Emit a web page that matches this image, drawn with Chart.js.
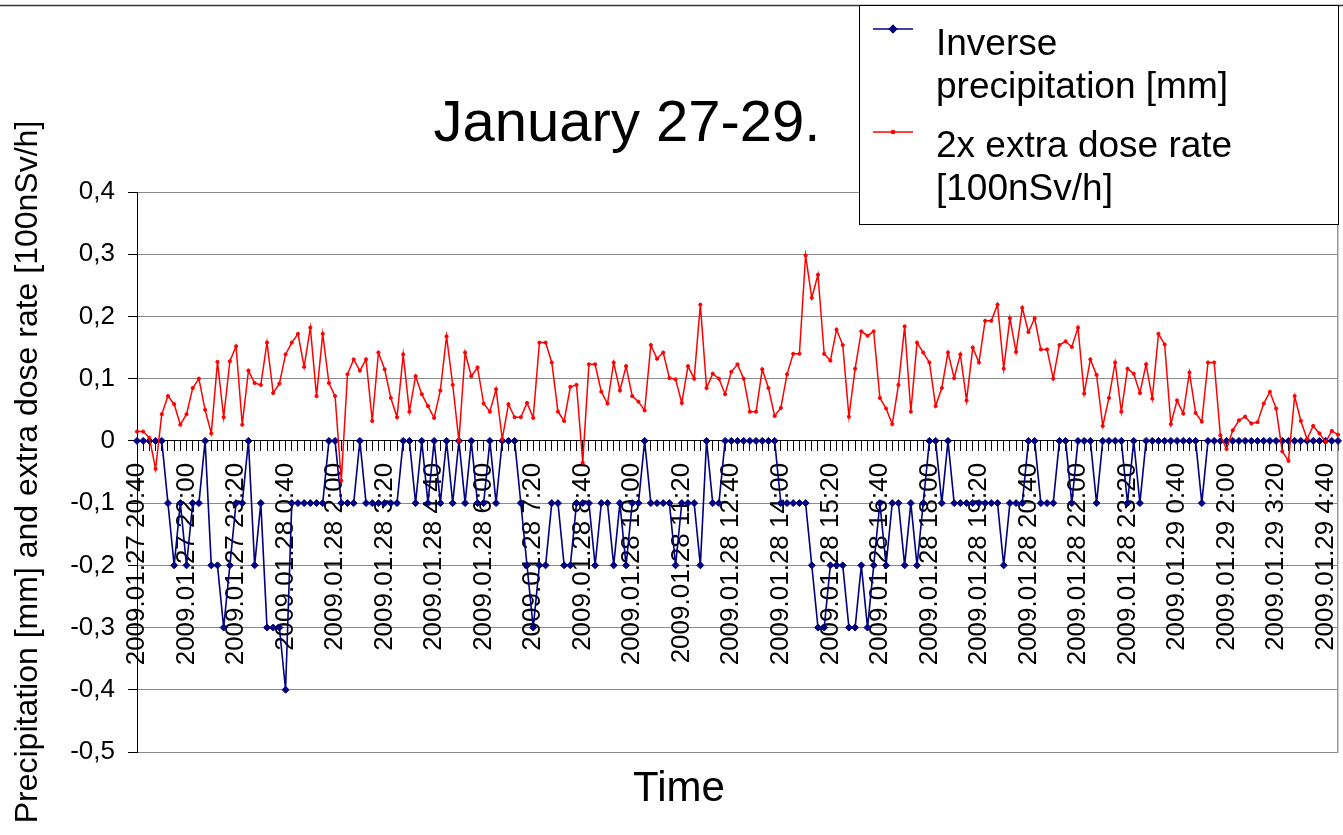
<!DOCTYPE html>
<html>
<head>
<meta charset="utf-8">
<script src="https://cdn.jsdelivr.net/npm/chart.js@4.4.1/dist/chart.umd.min.js"></script>
<style>
html,body{margin:0;padding:0;background:#fff;}
canvas{display:block;}
</style>
</head>
<body>
<canvas id="c" width="1343" height="835"></canvas>
<script>
const chartTitle = 'January 27-29.';
const xTitle = 'Time';
const yTitle = 'Precipitation [mm] and extra dose rate [100nSv/h]';
const seriesNames = ['Inverse precipitation [mm]', '2x extra dose rate [100nSv/h]'];
const legendLines = [['Inverse', 'precipitation [mm]'], ['2x extra dose rate', '[100nSv/h]']];

const tickLabels = [
  '2009.01.27 20:40','2009.01.27 22:00','2009.01.27 23:20','2009.01.28 0:40','2009.01.28 2:00',
  '2009.01.28 3:20','2009.01.28 4:40','2009.01.28 6:00','2009.01.28 7:20','2009.01.28 8:40',
  '2009.01.28 10:00','2009.01.28 11:20','2009.01.28 12:40','2009.01.28 14:00','2009.01.28 15:20',
  '2009.01.28 16:40','2009.01.28 18:00','2009.01.28 19:20','2009.01.28 20:40','2009.01.28 22:00',
  '2009.01.28 23:20','2009.01.29 0:40','2009.01.29 2:00','2009.01.29 3:20','2009.01.29 4:40'
];

const precipitation = [
  0,0,0,0,0,-0.1,-0.2,-0.1,-0.2,-0.1,
  -0.1,0,-0.2,-0.2,-0.3,-0.2,-0.1,-0.1,0,-0.2,
  -0.1,-0.3,-0.3,-0.3,-0.4,-0.1,-0.1,-0.1,-0.1,-0.1,
  -0.1,0,0,-0.1,-0.1,-0.1,0,-0.1,-0.1,-0.1,
  -0.1,-0.1,-0.1,0,0,-0.1,0,-0.1,0,-0.1,
  0,-0.1,0,-0.1,0,-0.1,-0.1,0,-0.1,0,
  0,0,-0.1,-0.2,-0.3,-0.2,-0.2,-0.1,-0.1,-0.2,
  -0.2,-0.1,-0.1,-0.1,-0.2,-0.1,-0.1,-0.2,-0.1,-0.2,
  -0.1,-0.1,0,-0.1,-0.1,-0.1,-0.1,-0.2,-0.1,-0.1,
  -0.1,-0.2,0,-0.1,-0.1,0,0,0,0,0,
  0,0,0,0,-0.1,-0.1,-0.1,-0.1,-0.1,-0.2,
  -0.3,-0.3,-0.2,-0.2,-0.2,-0.3,-0.3,-0.2,-0.3,-0.2,
  -0.1,-0.2,-0.1,-0.1,-0.2,-0.1,-0.2,-0.1,0,0,
  -0.1,0,-0.1,-0.1,-0.1,-0.1,-0.1,-0.1,-0.1,-0.1,
  -0.2,-0.1,-0.1,-0.1,0,0,-0.1,-0.1,-0.1,0,
  0,-0.1,0,0,0,-0.1,0,0,0,0,
  -0.1,0,-0.1,0,0,0,0,0,0,0,
  0,0,-0.1,0,0,0,0,0,0,0,
  0,0,0,0,0,0,0,0,0,0,
  0,0,0,0,0
];

const doseRate = [
  0.015,0.015,0.005,-0.045,0.043,0.072,0.059,0.026,0.043,0.085,
  0.10,0.05,0.012,0.127,0.038,0.128,0.152,0.026,0.113,0.093,
  0.09,0.158,0.077,0.092,0.139,0.158,0.172,0.119,0.182,0.072,
  0.172,0.093,0.072,-0.064,0.107,0.131,0.113,0.131,0.032,0.142,
  0.115,0.069,0.038,0.139,0.047,0.104,0.075,0.056,0.037,0.081,
  0.168,0.090,0.0,0.142,0.104,0.118,0.06,0.047,0.083,0.003,
  0.059,0.038,0.038,0.061,0.037,0.158,0.158,0.126,0.047,0.032,
  0.087,0.09,-0.035,0.123,0.123,0.079,0.06,0.126,0.081,0.12,
  0.072,0.063,0.049,0.154,0.132,0.142,0.101,0.099,0.061,0.12,
  0.10,0.219,0.085,0.108,0.10,0.075,0.111,0.123,0.10,0.047,
  0.047,0.115,0.085,0.04,0.053,0.107,0.14,0.14,0.298,0.23,
  0.267,0.14,0.129,0.179,0.154,0.039,0.116,0.176,0.169,0.176,
  0.069,0.052,0.027,0.09,0.184,0.047,0.158,0.142,0.126,0.056,
  0.085,0.142,0.101,0.139,0.065,0.15,0.126,0.193,0.193,0.219,
  0.116,0.197,0.143,0.214,0.175,0.197,0.147,0.147,0.10,0.154,
  0.16,0.151,0.182,0.076,0.131,0.106,0.024,0.069,0.126,0.047,
  0.116,0.108,0.077,0.123,0.068,0.172,0.155,0.027,0.065,0.044,
  0.11,0.045,0.031,0.126,0.126,0.009,-0.013,0.017,0.033,0.039,
  0.028,0.03,0.06,0.079,0.052,-0.017,-0.032,0.072,0.032,0.003,
  0.024,0.012,-0.002,0.016,0.01
];

const labelEvery = 8;
const pad2 = n => (n < 10 ? '0' : '') + n;
const categories = precipitation.map((_, i) => {
  const t = 20 * 60 + 40 + 10 * i;
  const day = 27 + Math.floor(t / 1440);
  const m = t % 1440;
  return '2009.01.' + day + ' ' + Math.floor(m / 60) + ':' + pad2(m % 60);
});

const FONT = "'Liberation Sans', Arial, Helvetica, sans-serif";
Chart.defaults.font.family = FONT;
Chart.defaults.color = '#000';

const colors = ['#000080', '#ff0000'];

const decor = {
  id: 'decor',
  afterDraw(chart) {
    const ctx = chart.ctx;
    ctx.save();
    // outer frame top edge
    ctx.strokeStyle = '#333';
    ctx.lineWidth = 1.5;
    ctx.beginPath();
    ctx.moveTo(0, 5.5);
    ctx.lineTo(chart.width, 5.5);
    ctx.stroke();
    // main title
    ctx.fillStyle = '#000';
    ctx.font = '58px ' + FONT;
    ctx.textAlign = 'center';
    ctx.textBaseline = 'alphabetic';
    ctx.fillText(chartTitle, 627, 141);
    // legend box
    const bx = 859.5, by = 5.5, bw = chart.chartArea.right - 859, bh = 219;
    ctx.fillStyle = '#fff';
    ctx.fillRect(bx, by, bw, bh);
    ctx.strokeStyle = '#000';
    ctx.lineWidth = 1;
    ctx.strokeRect(bx, by, bw, bh);
    const symY = [29, 132];
    const baseY = [[55, 98], [157, 200]];
    chart.data.datasets.forEach((ds, k) => {
      ctx.strokeStyle = ds.borderColor;
      ctx.lineWidth = ds.borderWidth;
      ctx.beginPath();
      ctx.moveTo(873, symY[k]);
      ctx.lineTo(913, symY[k]);
      ctx.stroke();
      ctx.fillStyle = ds.backgroundColor;
      Chart.helpers.drawPoint(ctx, {pointStyle: ds.pointStyle, radius: ds.pointRadius, borderWidth: 1, rotation: 0}, 893, symY[k]);
      ctx.fillStyle = '#000';
      ctx.font = '37px ' + FONT;
      ctx.textAlign = 'left';
      ctx.textBaseline = 'alphabetic';
      legendLines[k].forEach((line, j) => ctx.fillText(line, 936, baseY[k][j]));
    });
    ctx.restore();
  }
};

new Chart(document.getElementById('c'), {
  type: 'line',
  data: {
    labels: categories,
    datasets: [
      {
        label: seriesNames[0],
        data: precipitation,
        borderColor: colors[0],
        backgroundColor: colors[0],
        borderWidth: 1.6,
        pointStyle: 'rectRot',
        pointRadius: 3.5,
        pointBorderWidth: 1,
        tension: 0,
        order: 2
      },
      {
        label: seriesNames[1],
        data: doseRate,
        borderColor: colors[1],
        backgroundColor: colors[1],
        borderWidth: 1.5,
        pointStyle: 'circle',
        pointRadius: 1.6,
        pointBorderWidth: 1,
        tension: 0,
        order: 1
      }
    ]
  },
  options: {
    responsive: false,
    animation: false,
    devicePixelRatio: 1,
    layout: {padding: {top: 192, right: 5, bottom: 0, left: 20}},
    plugins: {
      legend: {display: false},
      tooltip: {enabled: false},
      title: {
        display: true,
        position: 'bottom',
        text: xTitle,
        color: '#000',
        font: {size: 42, weight: 'normal'},
        padding: {top: 12, bottom: 20.6}
      }
    },
    scales: {
      x: {
        type: 'category',
        position: {y: 0},
        grid: {drawOnChartArea: false, drawTicks: true, tickLength: 10, tickColor: '#000', color: '#000'},
        border: {display: true, color: '#000', width: 1},
        ticks: {
          autoSkip: false,
          minRotation: 90,
          maxRotation: 90,
          padding: 12,
          color: '#000',
          font: {size: 26},
          callback: (value, index) => (index % labelEvery === 0 ? tickLabels[index / labelEvery] : '')
        },
        afterFit: s => { s.paddingLeft = 0; s.paddingRight = 0; }
      },
      y: {
        position: 'left',
        min: -0.5,
        max: 0.4,
        grid: {color: '#8c8c8c', tickColor: '#000', tickLength: 9, lineWidth: 1},
        border: {display: true, color: '#000', width: 1},
        ticks: {
          stepSize: 0.1,
          padding: 13,
          color: '#000',
          font: {size: 26},
          callback: v => {
            const r = Math.round(v * 10) / 10;
            return r === 0 ? '0' : r.toFixed(1).replace('.', ',');
          }
        },
        title: {
          display: true,
          text: yTitle,
          color: '#000',
          font: {size: 32},
          padding: {top: -11, bottom: 0}
        },
        afterFit: s => { s.width = 117; }
      },
      yRight: {
        position: 'right',
        min: -0.5,
        max: 0.4,
        grid: {display: false},
        ticks: {display: false},
        border: {display: true, color: '#999', width: 1.5},
        afterFit: s => { s.width = 0; }
      }
    }
  },
  plugins: [decor]
});
</script>
</body>
</html>
